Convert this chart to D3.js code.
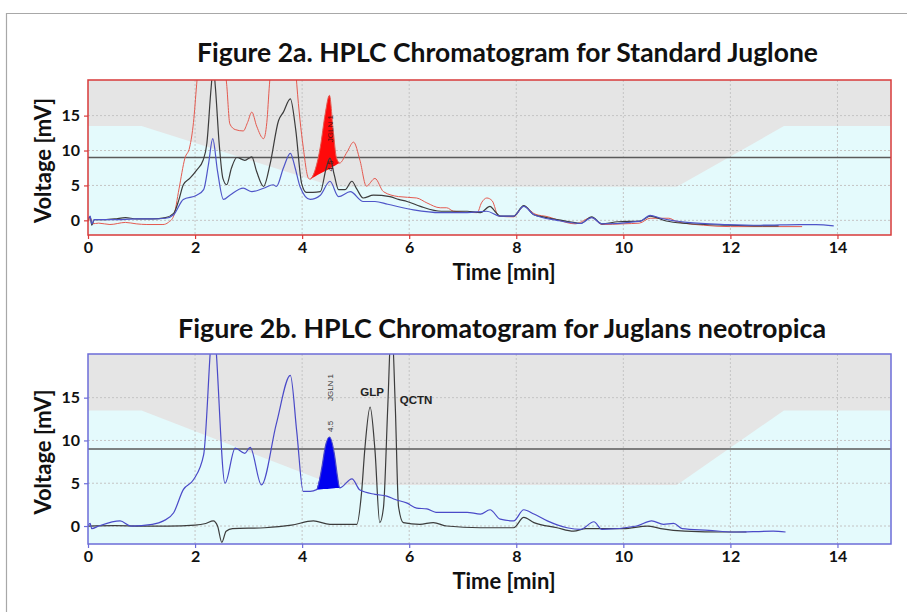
<!DOCTYPE html>
<html><head><meta charset="utf-8">
<script src="https://cdn.jsdelivr.net/npm/d3@7"></script>
<style>body{margin:0;background:#fff}svg{display:block}</style>
</head><body><svg id="c" width="907" height="612"></svg>
<script>
// ---------- DATA ----------
const titleA = "Figure 2a. HPLC Chromatogram for Standard Juglone";
const titleB = "Figure 2b. HPLC Chromatogram for Juglans neotropica";
const xTicks = [0, 2, 4, 6, 8, 10, 12, 14];
const yTicks = [0, 5, 10, 15];
const thresholdLevel = 9;
const gradientProfile = [[0,13.5],[1,13.5],[4.6,4.8],[11,4.8],[13,13.5],[15,13.5]];

const topRed = [[0,-0.2],[0.05,0.3],[0.08,-0.5],[0.2,-0.4],[0.41,-0.6],[0.7,-0.3],[0.9,-0.5],[1.1,-0.6],[1.4,-0.6],[1.5,-0.3],[1.6,0.6],[1.7,4.5],[1.81,8.9],[1.9,10.5],[1.97,14],[2.03,19.5],[2.1,26],[2.25,34],[2.4,30],[2.52,24],[2.59,19.5],[2.65,13.8],[2.75,13.0],[2.9,12.8],[2.98,14],[3.06,15.5],[3.15,13.5],[3.28,11.7],[3.34,14],[3.39,19.5],[3.5,28],[3.7,32],[3.85,25],[3.9,19.5],[4.02,10.5],[4.12,6.0],[4.15,5.9],[4.25,7.4],[4.34,10.5],[4.43,15.2],[4.51,17.9],[4.58,12.9],[4.64,9.0],[4.7,8.2],[4.84,9.8],[4.96,11.2],[5.08,8.6],[5.2,4.9],[5.36,6.0],[5.52,4.1],[5.8,3.4],[6.14,3.2],[6.33,2.5],[6.58,1.8],[6.7,1.8],[6.83,1.3],[7.27,1.1],[7.35,2.5],[7.45,3.2],[7.55,2.8],[7.67,0.6],[7.95,0.5],[8.14,2.0],[8.35,0.9],[8.6,0.5],[8.8,0.0],[9.1,-0.5],[9.41,0.4],[9.6,-0.6],[10.0,-0.5],[10.3,-0.4],[10.5,0.3],[10.85,0.3],[11.0,-0.2],[11.5,-0.7],[12.0,-0.9],[12.6,-0.9],[13.34,-0.9]];
const topBlack = [[0,0],[0.04,0.5],[0.07,-0.7],[0.12,0.1],[0.3,0.1],[0.5,0.2],[0.7,0.4],[0.9,0.2],[1.2,0.2],[1.45,0.4],[1.6,1.0],[1.7,3.0],[1.78,5.1],[1.9,6.0],[2.03,7.2],[2.15,8.6],[2.22,11],[2.3,19],[2.34,22],[2.38,19],[2.45,11],[2.52,6.0],[2.59,5.1],[2.68,7.5],[2.78,9.0],[2.93,8.6],[3.06,9.1],[3.15,7.0],[3.28,4.85],[3.4,8],[3.56,14.3],[3.65,15.5],[3.78,17.4],[3.88,13],[3.99,5.3],[4.08,4.0],[4.2,4.0],[4.34,4.1],[4.45,7.5],[4.52,8.9],[4.6,6.5],[4.68,4.4],[4.8,4.4],[4.93,5.6],[5.02,4.5],[5.14,3.2],[5.33,3.6],[5.64,3.4],[5.8,3.0],[5.96,2.7],[6.21,2.0],[6.6,1.3],[7.08,1.3],[7.33,1.1],[7.51,2.0],[7.6,1.3],[7.7,0.6],[7.95,0.6],[8.14,2.1],[8.33,0.8],[8.5,0.5],[8.76,0.1],[9.0,-0.2],[9.2,-0.45],[9.41,0.5],[9.6,-0.5],[9.9,-0.2],[10.32,-0.1],[10.5,0.6],[10.8,-0.1],[11.19,-0.45],[11.94,-0.7],[12.56,-0.8],[12.9,-0.8]];
const topBlue = [[0,0.1],[0.04,0.6],[0.07,-0.5],[0.12,0.1],[0.5,0.1],[0.9,0.2],[1.2,0.2],[1.45,0.3],[1.6,0.8],[1.78,3.0],[2.03,3.6],[2.16,4.4],[2.25,8],[2.33,11.7],[2.42,7],[2.53,3.0],[2.65,3.6],[2.9,4.6],[3.06,4.1],[3.28,4.6],[3.46,5.1],[3.52,4.85],[3.65,7.5],[3.78,9.6],[3.87,7.5],[3.96,4.85],[4.15,3.0],[4.34,3.6],[4.52,5.6],[4.68,3.4],[4.9,4.1],[5.14,2.7],[5.36,2.7],[5.6,2.3],[6.08,1.5],[6.58,1.1],[7.08,1.1],[7.45,1.3],[7.7,0.6],[7.95,0.6],[8.14,2.0],[8.33,0.8],[8.76,0.0],[9.2,-0.45],[9.41,0.4],[9.6,-0.5],[10.32,-0.1],[10.5,0.7],[10.7,0.3],[11.19,-0.3],[11.94,-0.6],[12.56,-0.7],[13.3,-0.6],[13.6,-0.6],[13.93,-0.8]];
const topPeakFill = [[4.15,5.9],[4.25,7.4],[4.34,10.5],[4.43,15.2],[4.51,17.9],[4.58,12.9],[4.64,9.0],[4.7,8.2]];

const botBlue = [[0,0],[0.04,0.3],[0.07,-0.3],[0.2,0],[0.6,0.6],[0.8,0],[1.2,0.2],[1.41,0.6],[1.6,1.55],[1.78,4.25],[1.97,5.4],[2.16,8.3],[2.28,20],[2.34,26],[2.4,20],[2.56,5.0],[2.75,9.1],[2.93,8.5],[3.03,9.2],[3.24,4.8],[3.52,12.0],[3.78,17.6],[3.9,11],[4.02,4.05],[4.15,4.05],[4.27,4.25],[4.37,6.9],[4.43,9.2],[4.51,10.4],[4.6,8.5],[4.66,5.8],[4.7,4.45],[4.93,5.5],[5.08,4.2],[5.36,3.7],[5.58,3.5],[5.74,3.1],[5.95,2.7],[6.14,2.1],[6.33,2.0],[6.5,1.6],[7.08,1.6],[7.33,1.4],[7.51,1.9],[7.7,0.8],[7.95,0.6],[8.14,1.9],[8.33,1.4],[8.58,0.6],[8.95,-0.2],[9.2,-0.4],[9.45,0.5],[9.6,-0.4],[10.25,0],[10.53,0.6],[10.75,0.2],[10.94,0.3],[11.1,-0.3],[11.6,-0.5],[12.05,-0.7],[12.8,-0.6],[13.03,-0.7]];
const botBlack = [[0,0],[0.5,0.05],[1.0,0],[1.5,0],[2.0,0.1],[2.2,0.3],[2.34,0.6],[2.42,0],[2.5,-1.9],[2.58,-0.6],[2.7,-0.3],[3.3,-0.2],[3.8,0.1],[4.21,0.6],[4.52,0.2],[5.02,0.2],[5.11,3.9],[5.17,8.9],[5.27,13.9],[5.36,8.9],[5.45,0.4],[5.52,2.2],[5.6,14],[5.67,24],[5.74,14],[5.8,2.3],[5.89,0.4],[6.2,0.2],[6.45,0.4],[6.7,0],[7.33,-0.2],[7.95,-0.2],[8.14,1.0],[8.33,0.4],[8.76,-0.2],[9.07,-0.6],[9.3,-0.3],[10.0,-0.3],[10.45,0],[10.7,-0.3],[11.15,-0.6],[11.9,-0.7],[12.3,-0.7]];
const botPeakFill = [[4.27,4.25],[4.37,6.9],[4.43,9.2],[4.51,10.4],[4.6,8.5],[4.66,5.8],[4.7,4.45]];
const peakLabels = [{t:5.27, v:13.9, text:"GLP"}, {t:5.68, v:12.9, text:"QCTN"}];

// ---------- DRAW ----------
const svg = d3.select("#c");
const FONT = "Lato, 'Open Sans', sans-serif";

svg.append("path").attr("d","M907,13.5 H6.5 V612").attr("fill","none").attr("stroke","#a8a8a8").attr("stroke-width",1.2);

function panel(cfg){
  const x = d3.scaleLinear().domain([0,15]).range([88,891]);
  const y = d3.scaleLinear().domain([-2.1,20.1]).range([cfg.bottom,cfg.top]);
  const g = svg.append("g");
  const clipId = "clip"+cfg.id;
  svg.append("clipPath").attr("id",clipId).append("rect")
    .attr("x",88).attr("y",cfg.top).attr("width",803).attr("height",cfg.bottom-cfg.top);
  const plot = g.append("g").attr("clip-path",`url(#${clipId})`);
  plot.append("rect").attr("x",88).attr("y",cfg.top).attr("width",803).attr("height",cfg.bottom-cfg.top).attr("fill","#e5e5e5");
  plot.append("path").datum(gradientProfile)
    .attr("d", d3.area().x(d=>x(d[0])).y0(cfg.bottom).y1(d=>y(d[1])))
    .attr("fill","#e4fafc");
  plot.selectAll(".gx").data(xTicks.filter(t=>t>0)).join("line")
    .attr("x1",d=>x(d)).attr("x2",d=>x(d)).attr("y1",cfg.top).attr("y2",cfg.bottom)
    .attr("stroke","#c4c4c4").attr("stroke-dasharray","2,2").attr("stroke-width",1);
  plot.selectAll(".gy").data(yTicks).join("line")
    .attr("y1",d=>y(d)).attr("y2",d=>y(d)).attr("x1",88).attr("x2",891)
    .attr("stroke","#c4c4c4").attr("stroke-dasharray","2,2").attr("stroke-width",1);
  plot.append("line").attr("x1",88).attr("x2",891).attr("y1",y(thresholdLevel)).attr("y2",y(thresholdLevel))
    .attr("stroke","#5a5a5a").attr("stroke-width",1.5);
  const pf = cfg.fill;
  const base = d3.scaleLinear().domain([pf[0][0], pf[pf.length-1][0]]).range([pf[0][1], pf[pf.length-1][1]]);
  plot.append("path").datum(pf)
    .attr("d", d3.area().x(d=>x(d[0])).y0(d=>y(base(d[0]))).y1(d=>y(d[1])).curve(d3.curveMonotoneX))
    .attr("fill",cfg.fillColor);
  const line = d3.line().x(d=>x(d[0])).y(d=>y(d[1])).curve(d3.curveMonotoneX);
  cfg.series.forEach(s=>{
    plot.append("path").datum(s.data).attr("d",line).attr("fill","none")
      .attr("stroke",s.color).attr("stroke-width",s.w||1.2).attr("stroke-linejoin","round");
  });
  const lab = g.append("g").attr("font-family","'Liberation Sans', Arial, sans-serif").attr("font-size",8).attr("fill",cfg.labColor);
  lab.append("text").attr("transform",`translate(${x(4.52)+3},${y(cfg.lab45)}) rotate(-90)`).text("4.5");
  lab.append("text").attr("transform",`translate(${x(4.52)+3},${y(cfg.labJ)}) rotate(-90)`).text("JGLN  1");
  (cfg.extraLabels||[]).forEach(l=>{
    g.append("text").attr("x",x(l.t)+l.dx).attr("y",y(l.v)).attr("font-family","'Liberation Sans', Arial, sans-serif")
      .attr("font-size",11.5).attr("font-weight","bold").attr("fill","#222").attr("text-anchor","middle").text(l.text);
  });
  g.append("rect").attr("x",88).attr("y",cfg.top).attr("width",803).attr("height",cfg.bottom-cfg.top)
    .attr("fill","none").attr("stroke",cfg.frame).attr("stroke-width",1.5);
  const ax = g.append("g").attr("transform",`translate(0,${cfg.bottom})`)
    .call(d3.axisBottom(x).tickValues(xTicks).tickSize(4).tickPadding(3).tickFormat(d3.format("d")));
  const ay = g.append("g").attr("transform",`translate(88,0)`)
    .call(d3.axisLeft(y).tickValues(yTicks).tickSize(4).tickPadding(4).tickFormat(d3.format("d")));
  [ax,ay].forEach(a=>{
    a.select(".domain").remove();
    a.selectAll(".tick line").attr("stroke",cfg.frame).attr("stroke-width",1.2);
    a.selectAll("text").attr("font-family",FONT).attr("font-weight","bold").attr("font-size",16).attr("fill","#111");
  });
  svg.append("text").attr("x",cfg.titleX).attr("y",cfg.titleY).attr("font-family",FONT).attr("font-weight","bold")
    .attr("font-size",27).attr("fill","#111").attr("textLength",cfg.titleW).attr("lengthAdjust","spacingAndGlyphs")
    .text(cfg.title);
  svg.append("text").attr("x",504).attr("y",cfg.bottom+45).attr("text-anchor","middle").attr("font-family",FONT)
    .attr("font-weight","bold").attr("font-size",22).attr("fill","#111").text("Time [min]");
  svg.append("text").attr("transform",`translate(51,${(cfg.top+cfg.bottom)/2+3}) rotate(-90)`).attr("text-anchor","middle")
    .attr("font-family",FONT).attr("font-weight","bold").attr("font-size",22).attr("fill","#111").text("Voltage [mV]");
}

panel({id:"a", top:80, bottom:235, frame:"#d83a3a", title:titleA, titleX:197, titleY:62, titleW:621,
  fill:topPeakFill, fillColor:"#ff0a0a", labColor:"#4a1010", lab45:7.0, labJ:11.2,
  series:[{data:topRed,color:"#e45a50",w:1},{data:topBlack,color:"#3c3c3c"},{data:topBlue,color:"#4f55c8"}]});
panel({id:"b", top:354, bottom:544, frame:"#6c6cd8", title:titleB, titleX:178, titleY:338, titleW:648,
  fill:botPeakFill, fillColor:"#0000f0", labColor:"#333", lab45:11.0, labJ:14.6,
  extraLabels:peakLabels.map((p,i)=>({t:p.t, v:p.v+1.3, dx:[2,24][i], text:p.text})),
  series:[{data:botBlack,color:"#3c3c3c"},{data:botBlue,color:"#4a4ac8"}]});
</script></body></html>
